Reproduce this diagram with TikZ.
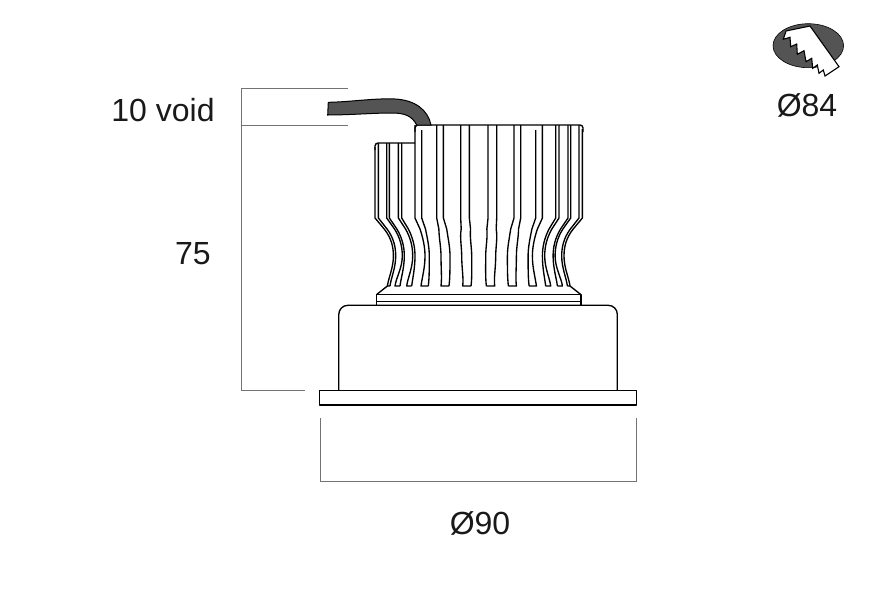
\documentclass[tikz,border=0pt]{standalone}
\usepackage{fontspec}
\setmainfont{Liberation Sans}
\usetikzlibrary{positioning}

\newcommand{\finedge}[4]{(#1,#4) -- (#1,218) -- ({#1-0.5*(#1-#2)},229) .. controls ({#2+2},238) and (#2,247) .. (#2,256) .. controls (#2,268) and ({#3-1},278) .. (#3,286)}

\begin{document}
\begin{tikzpicture}[x=1pt,y=-1pt,
	part/.style={line width=1.35pt,line join=round},
	dim line/.style={line width=0.7pt,color=black!55},
	dim label/.style={font=\fontsize{32}{32}\selectfont,text=black!90},
	dark/.style={fill=black!67,draw=black}]
	
	\useasboundingbox (0,0) rectangle (880,600);
	
	% mounting trim
	\draw[part,rounded corners=9pt] (338.8,390.5) -- (338.8,305.3) -- (617.3,305.3) -- (617.3,390.5);
	\draw[part] (319.8,390.5) rectangle (636.6,405);
	
	% heat sink
	\draw[part] (376.5,294.3) rectangle (581,305.3);
	\draw[part] (376.5,301.7) -- (581,301.7);
	\draw[part,rounded corners=3pt] (375,150) -- (375,143) -- (415,143);
	\draw[part,rounded corners=3pt] (415,132) -- (415,125) -- (583,125) -- (583,132);
	
	\foreach \side/\ytop in {-1/143,1/125}{
		\begin{scope}[xshift=478.7,xscale=\side]
			\foreach \oa/\ow/\ob/\ia/\iw/\ib/\ya/\yb in {
				18/17/16/9.33/7/7.67/125/125,
				42/37.7/37.7/35.3/28.7/29.7/125/125,
				63.7/53.7/57.7/57/49.4/50.4/125/130,
				80.3/66/72/77/63.7/67/\ytop/\ytop,
				92/76.4/83.7/89.3/74.4/78.7/\ytop/\ytop,
				103.7/85.3/91.3/100.3/83/88.7/\ytop+4/\ytop}{
				\draw[part] \finedge{\oa}{\ow}{\ob}{\ya} -- (\ib,286);
				\draw[part] \finedge{\ia}{\iw}{\ib}{\yb};
			}
			\draw[part] (91.3,286) -- (101.8,294.3);
		\end{scope}
	}
	
	% cable
	\draw[dark,line width=1pt] (328.3,102.3) .. controls (350,102) and (375,98) .. (395,99) .. controls (415,100) and (428,110) .. (431,125) -- (416.7,125) .. controls (412,116) and (405,113) .. (392,113) .. controls (372,113) and (350,115) .. (327.7,115) -- cycle;
	
	% dimensions
	\coordinate (voidtop) at (348,88);
	\coordinate (voidend) at (348,125.5);
	\coordinate (cornertop) at (241,88);
	\coordinate (cornermid) at (241,125.5);
	\coordinate (cornerlow) at (241,390.5);
	\coordinate (heightend) at (305,390.5);
	\coordinate (widthleft) at (320,418);
	\coordinate (widthright) at (636.3,418);
	\draw[dim line] (voidtop) -- (cornertop) -- (cornerlow) -- (heightend);
	\draw[dim line] (cornermid) -- (voidend);
	\draw[dim line] (widthleft) -- (320,481) -- (636.3,481) -- (widthright);
	
	\node[dim label] (void) at (163,110) {10 void};
	\node[dim label] (height) at (193,254) {75};
	\node[dim label] (width) at (480,523) {Ø90};
	\node[dim label] (cutout) at (807,105) {Ø84};
	
	% hole saw symbol
	\draw[dark,line width=0.6pt] (808.3,45.7) ellipse [x radius=35.3,y radius=22];
	\draw[fill=white,draw=black,line width=1.1pt,line join=miter] (810,26) -- (839,66.7) -- (825,76) -- (823.3,70) -- (819,73.3) -- (817.3,65) -- (812.7,68.3) -- (811.7,58.3) -- (806,61.7) -- (804,50.7) -- (797.3,54.3) -- (796.7,44) -- (790.7,46.7) -- (790,37.3) -- (783.3,39.3) -- (786,31) -- cycle;
\end{tikzpicture}
\end{document}
